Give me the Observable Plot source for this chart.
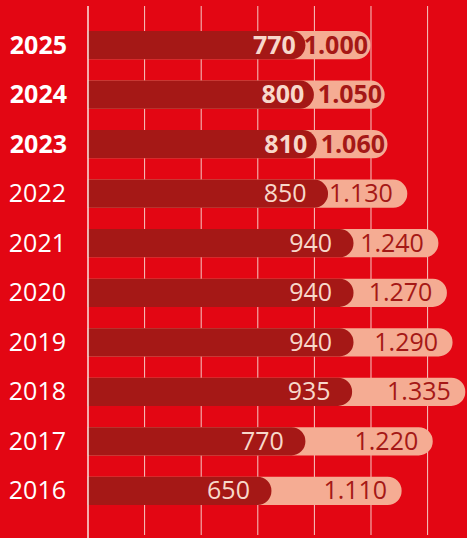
<!DOCTYPE html>
<html><head><meta charset="utf-8">
<script src="https://cdn.jsdelivr.net/npm/d3@7"></script>
<script src="https://cdn.jsdelivr.net/npm/@observablehq/plot@0.6"></script>
<style>html,body{margin:0;padding:0;background:#e30613;}</style>
</head><body><div id="chart"></div>
<script>
const years = [2025, 2024, 2023, 2022, 2021, 2020, 2019, 2018, 2017, 2016];
const darkValues = [770, 800, 810, 850, 940, 940, 940, 935, 770, 650];
const totalValues = [1000, 1050, 1060, 1130, 1240, 1270, 1290, 1335, 1220, 1110];
const gridTicks = [200, 400, 600, 800, 1000, 1200];
const boldFrom = 2023;

const data = years.map((year, i) => ({year, dark: darkValues[i], total: totalValues[i]}));
const fmt = d3.formatLocale({decimal: ",", thousands: ".", grouping: [3], currency: ["", "€"]}).format(",d");
const isBold = d => d.year >= boldFrom;
const notBold = d => d.year < boldFrom;

const RED = "#e30613", DARK = "#a51816", LIGHT = "#f5ac93", PALE = "#f8d8cb";
const font = "'Open Sans', sans-serif";
const fs = 25;

const chart = Plot.plot({
  width: 467,
  height: 538,
  marginTop: 6,
  marginBottom: 0,
  marginLeft: 0,
  marginRight: 0,
  style: {background: RED, fontFamily: font},
  x: {domain: [0, 1341], range: [87.5, 467], axis: null},
  y: {type: "band", domain: years, range: [31, 505], paddingInner: 0.43, paddingOuter: 0, round: false, axis: null},
  marks: [
    Plot.ruleX(gridTicks, {stroke: "#f6c9c4", strokeWidth: 1, insetBottom: 3}),
    Plot.barX(data, {x: "total", y: "year", fill: LIGHT, rx2: 14}),
    Plot.barX(data, {x: "dark", y: "year", fill: DARK, rx2: 14}),
    Plot.ruleX([0], {stroke: "#fbe4df", strokeWidth: 1.5}),
    // year labels
    Plot.text(data.filter(isBold), {x: 0, y: "year", text: d => String(d.year), textAnchor: "end", dx: -21, fill: "white", fontSize: fs, fontWeight: "bold"}),
    Plot.text(data.filter(notBold), {x: 0, y: "year", text: d => String(d.year), textAnchor: "end", dx: -22, fill: "white", fontSize: fs}),
    // dark values
    Plot.text(data.filter(isBold), {x: "dark", y: "year", text: d => fmt(d.dark), textAnchor: "end", dx: -10, fill: PALE, fontSize: fs, fontWeight: "bold"}),
    Plot.text(data.filter(notBold), {x: "dark", y: "year", text: d => fmt(d.dark), textAnchor: "end", dx: -22, fill: PALE, fontSize: fs}),
    // total values
    Plot.text(data.filter(isBold), {x: "total", y: "year", text: d => fmt(d.total), textAnchor: "end", dx: -3, fill: DARK, fontSize: fs, fontWeight: "bold"}),
    Plot.text(data.filter(notBold), {x: "total", y: "year", text: d => fmt(d.total), textAnchor: "end", dx: -15, fill: DARK, fontSize: fs})
  ]
});
document.getElementById("chart").appendChild(chart);
</script>
</body></html>
